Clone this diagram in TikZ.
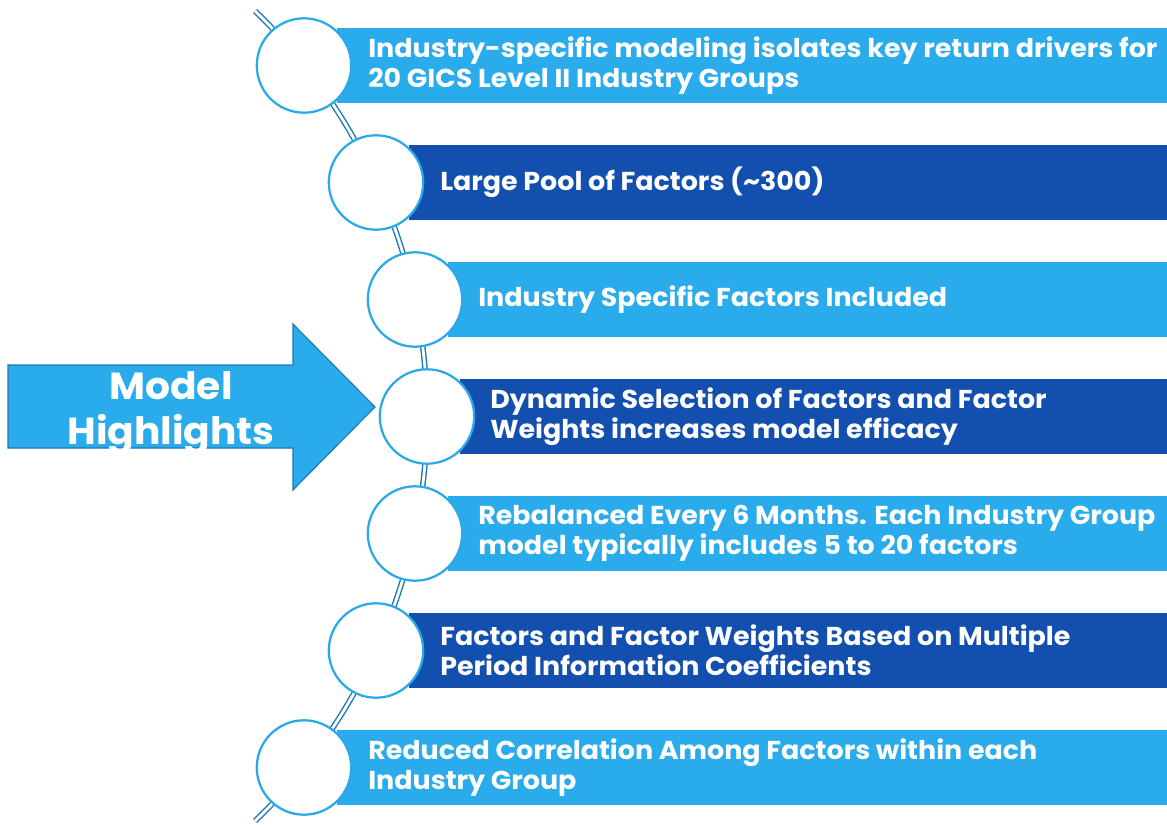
\documentclass[tikz,border=0pt]{standalone}
\usepackage{fontspec}
\setmainfont{Poppins}[FakeStretch=1.04]
\definecolor{barlight}{HTML}{29ABEC}
\definecolor{bardark}{HTML}{134FAE}
\definecolor{ringblue}{HTML}{29A9E8}
\definecolor{linkblue}{HTML}{1C78B2}
\definecolor{arrowedge}{HTML}{1F78B4}
\tikzstyle{ring}=[circle, draw=ringblue, line width=1.6pt, fill=white, minimum size=23.6mm, inner sep=0pt]
\tikzstyle{caption}=[anchor=west, text=white, align=left, inner sep=0pt, font=\bfseries\fontsize{18.4}{21.3}\selectfont]
\tikzstyle{link}=[draw=linkblue, double=white, line width=1pt, double distance=2pt]
\tikzstyle{pointer}=[fill=barlight, draw=arrowedge, line width=0.8pt]

\begin{document}
\begin{tikzpicture}[x=0.25mm, y=-0.25mm]
\useasboundingbox (0,0) rectangle (1167,825);
%spine
\coordinate (hub) at (-136,416);
\path (hub) ++(-46:563) coordinate (top);
\draw[link] (top) arc[start angle=-46, end angle=46, radius=563] coordinate (bottom);
%bars
\foreach \i/\x/\y/\c in {1/304/65.5/barlight, 2/376/182.5/bardark, 3/415/299.5/barlight, 4/427/416.5/bardark, 5/415/533.5/barlight, 6/376/650.5/bardark, 7/304/767.5/barlight}{
	\fill[\c] (\x+33,\y-37.5) rectangle (1167,\y+37.5);}
%circles
\foreach \i/\x/\y in {1/304/65.5, 2/376/182.5, 3/415/299.5, 4/427/416.5, 5/415/533.5, 6/376/650.5, 7/304/767.5}{
	\node[ring] (c\i) at (\x,\y){};}
%texts
\node[caption] (t1) at (368,65.5) {Industry-specific modeling isolates key return drivers for\\20 GICS Level II Industry Groups};
\node[caption] (t2) at (440,182.5) {Large Pool of Factors (\textasciitilde300)};
\node[caption] (t3) at (478,299.5) {Industry Specific Factors Included};
\node[caption] (t4) at (490,416.5) {Dynamic Selection of Factors and Factor\\Weights increases model efficacy};
\node[caption] (t5) at (478,533.5) {Rebalanced Every 6 Months. Each Industry Group\\model typically includes 5 to 20 factors};
\node[caption] (t6) at (440,650.5) {Factors and Factor Weights Based on Multiple\\Period Information Coefficients};
\node[caption] (t7) at (368,767.5) {Reduced Correlation Among Factors within each\\Industry Group};
%arrow
\draw[pointer] (8,365) -- (293,365) -- (293,324) -- (375,407) -- (293,490) -- (293,448) -- (8,448) -- cycle;
\node[text=white, align=center, inner sep=0pt, font=\bfseries\fontsize{26.8}{32}\selectfont] (lbl) at (171,413) {Model\\Highlights};
\end{tikzpicture}
\end{document}
